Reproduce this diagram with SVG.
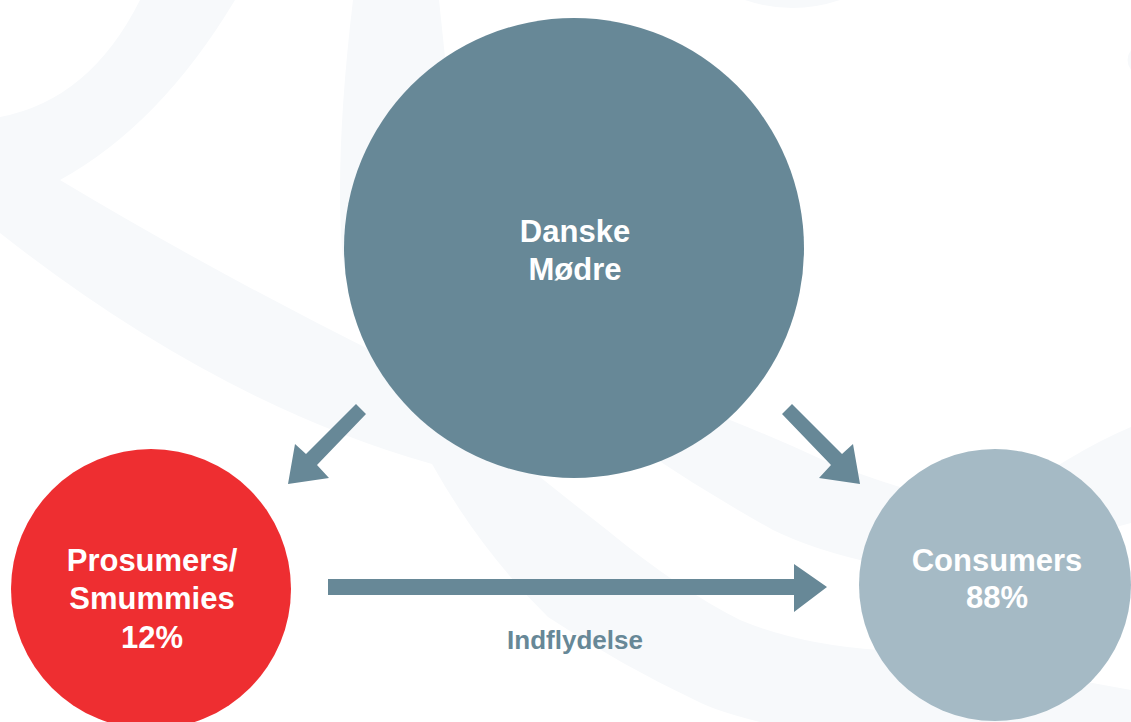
<svg xmlns="http://www.w3.org/2000/svg" width="1131" height="722" viewBox="0 0 1131 722">
  <style>
    .band { fill: #F7F9FB; }
    .arrow { fill: #678897; }
    .label { font-family: "Liberation Sans", Arial, sans-serif; font-weight: bold; font-size: 31px; fill: #FFFFFF; text-anchor: middle; }
    .edge-label { font-family: "Liberation Sans", Arial, sans-serif; font-weight: bold; font-size: 26px; fill: #678897; text-anchor: middle; }
  </style>
  <rect x="0" y="0" width="1131" height="722" fill="#FFFFFF"/>
  <g id="background">
    <path class="band" d="M140,0 L235,0 Q160,125 60,180 Q210,270 380,355 L520,420 L432,464 Q216,403 0,233 L0,117 Q90,100 140,0 Z"/>
    <path class="band" d="M353,0 L439,0 L460,200 L520,460 L540,477 Q575,505 607,530 Q680,590 740,620 Q800,645 880,650 Q1000,665 1131,690 L1131,722 L760,722 Q720,712 701,703 Q620,665 548,617 Q480,550 432,464 Q350,330 342,250 Q335,150 353,0 Z"/>
    <path class="band" d="M640,370 L730,420 Q780,440 823,460 Q870,478 900,487 Q990,510 1067,460 Q1100,440 1131,427 L1131,523 Q1000,560 860,560 Q810,548 773,530 Q710,495 650,455 Z"/>
    <path class="band" d="M745,0 Q792,16 840,0 Z"/>
    <path class="band" d="M1131,50 Q1124,60 1131,70 Z"/>
  </g>
  <g id="connectors">
    <polygon class="arrow" points="356,404 366,414 317,465 329,478 288,484 295,444 306,454"/>
    <polygon class="arrow" points="792,404 782,414 831,465 819,478 860,484 853,444 842,454"/>
    <polygon class="arrow" points="328,579 794,579 794,564 827,587 794,612 794,595 328,595"/>
    <text class="edge-label" x="575" y="649">Indflydelse</text>
  </g>
  <g id="node-danske-moedre">
    <circle cx="574" cy="248" r="230" fill="#678897"/>
    <text class="label" x="575" y="242">Danske</text>
    <text class="label" x="575" y="280">Mødre</text>
  </g>
  <g id="node-prosumers">
    <circle cx="151" cy="589" r="140" fill="#EE2E31"/>
    <text class="label" x="152" y="571">Prosumers/</text>
    <text class="label" x="152" y="609">Smummies</text>
    <text class="label" x="152" y="648">12%</text>
  </g>
  <g id="node-consumers">
    <circle cx="995" cy="585" r="136" fill="#A5BAC5"/>
    <text class="label" x="997" y="571">Consumers</text>
    <text class="label" x="997" y="608">88%</text>
  </g>
</svg>
